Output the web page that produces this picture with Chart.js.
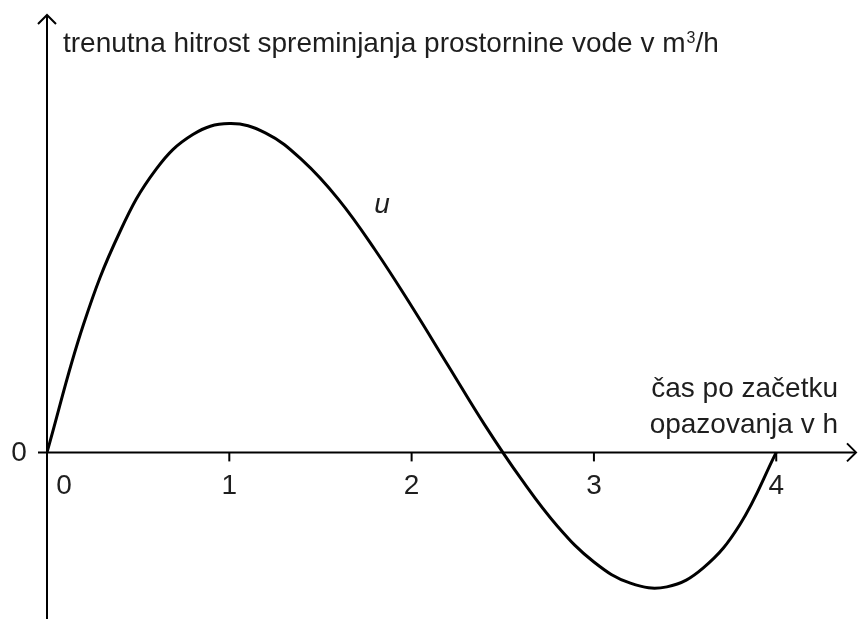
<!DOCTYPE html>
<html>
<head>
<meta charset="utf-8">
<script src="https://cdn.jsdelivr.net/npm/chart.js@4/dist/chart.umd.min.js"></script>
<style>
  html, body { margin: 0; padding: 0; background: #fff; }
  #wrap { width: 859px; height: 619px; position: relative; }
</style>
</head>
<body>
<div id="wrap"><canvas id="c" width="859" height="619"></canvas></div>
<script>
// time since start of observation (h)
const hours = [0, 0.2, 0.4, 0.6, 0.8, 1.0, 1.2, 1.4, 1.6, 1.8, 2.0,
               2.2, 2.4, 2.6, 2.8, 3.0, 3.2, 3.4, 3.6, 3.8, 4.0];
// rate of change of water volume u (relative units, no scale on the axis)
const rate = [0, 1.75, 3.02, 3.88, 4.35, 4.5, 4.37, 4.0, 3.46, 2.77, 2.0,
              1.19, 0.38, -0.36, -1.01, -1.5, -1.79, -1.84, -1.58, -0.99, 0];
const xTicks = [1, 2, 3, 4];
const xTickLabels = ['1', '2', '3', '4'];
const yAxisTitle = 'trenutna hitrost spreminjanja prostornine vode v m';
const xAxisTitle = ['čas po začetku', 'opazovanja v h'];
const curveName = 'u';

const FONT = '"Liberation Sans", Arial, sans-serif';
const SIZE = 28;
const INK = '#1e1e1e';

const axesPlugin = {
  id: 'axesPlugin',
  beforeDatasetsDraw(chart) {
    const ctx = chart.ctx;
    const xs = chart.scales.x, ys = chart.scales.y;
    const ca = chart.chartArea;
    const x0 = xs.getPixelForValue(0);
    const y0 = ys.getPixelForValue(0);
    ctx.save();
    ctx.strokeStyle = '#000';
    ctx.lineWidth = 2;
    ctx.lineCap = 'butt';
    // vertical axis
    ctx.beginPath();
    ctx.moveTo(x0, ca.bottom + 2);
    ctx.lineTo(x0, ca.top + 1);
    ctx.stroke();
    // horizontal axis
    ctx.beginPath();
    ctx.moveTo(x0 - 9, y0);
    ctx.lineTo(ca.right - 1, y0);
    ctx.stroke();
    // arrowheads
    ctx.lineJoin = 'miter';
    ctx.beginPath();
    ctx.moveTo(x0 - 9, ca.top + 10);
    ctx.lineTo(x0, ca.top + 1);
    ctx.lineTo(x0 + 9, ca.top + 10);
    ctx.stroke();
    ctx.beginPath();
    ctx.moveTo(ca.right - 10, y0 - 9);
    ctx.lineTo(ca.right - 1, y0);
    ctx.lineTo(ca.right - 10, y0 + 9);
    ctx.stroke();
    // tick marks
    xTicks.forEach(v => {
      const px = xs.getPixelForValue(v);
      ctx.beginPath();
      ctx.moveTo(px, y0);
      ctx.lineTo(px, y0 + 9);
      ctx.stroke();
    });
    // tick labels
    ctx.fillStyle = INK;
    ctx.font = SIZE + 'px ' + FONT;
    ctx.textAlign = 'center';
    ctx.textBaseline = 'middle';
    xTicks.forEach((v, i) => {
      ctx.fillText(xTickLabels[i], xs.getPixelForValue(v), y0 + 34);
    });
    ctx.fillText('0', x0 + 17, y0 + 34);
    ctx.fillText('0', x0 - 28, y0 + 1);
    ctx.restore();
  },
  afterDraw(chart) {
    const ctx = chart.ctx;
    const xs = chart.scales.x, ys = chart.scales.y;
    const x0 = xs.getPixelForValue(0);
    const y0 = ys.getPixelForValue(0);
    ctx.save();
    ctx.fillStyle = INK;
    ctx.font = SIZE + 'px ' + FONT;
    ctx.textBaseline = 'alphabetic';
    ctx.textAlign = 'left';
    const tx = x0 + 16, ty = 52;
    ctx.fillText(yAxisTitle, tx, ty);
    const w = ctx.measureText(yAxisTitle).width;
    ctx.font = '16px ' + FONT;
    ctx.fillText('3', tx + w + 1, ty - 9);
    const w3 = ctx.measureText('3').width;
    ctx.font = SIZE + 'px ' + FONT;
    ctx.fillText('/h', tx + w + w3 + 1, ty);
    // x axis title (right aligned)
    ctx.textAlign = 'right';
    ctx.fillText(xAxisTitle[0], 838, y0 - 55);
    ctx.fillText(xAxisTitle[1], 838, y0 - 19);
    // curve name
    ctx.font = 'italic ' + SIZE + 'px ' + FONT;
    ctx.textAlign = 'center';
    ctx.fillText(curveName, 382, 213);
    ctx.restore();
  }
};

new Chart(document.getElementById('c'), {
  type: 'line',
  data: {
    datasets: [{
      data: hours.map((h, i) => ({ x: h, y: rate[i] })),
      borderColor: '#000',
      borderWidth: 3,
      pointRadius: 0,
      tension: 0.4,
      fill: false
    }]
  },
  options: {
    responsive: false,
    animation: false,
    layout: { padding: { left: 47, right: 2, top: 14, bottom: 0 } },
    plugins: { legend: { display: false }, tooltip: { enabled: false } },
    scales: {
      x: { type: 'linear', min: 0, max: 4.443, display: false },
      y: { type: 'linear', min: -2.28, max: 6, display: false }
    }
  },
  plugins: [axesPlugin]
});
</script>
</body>
</html>
